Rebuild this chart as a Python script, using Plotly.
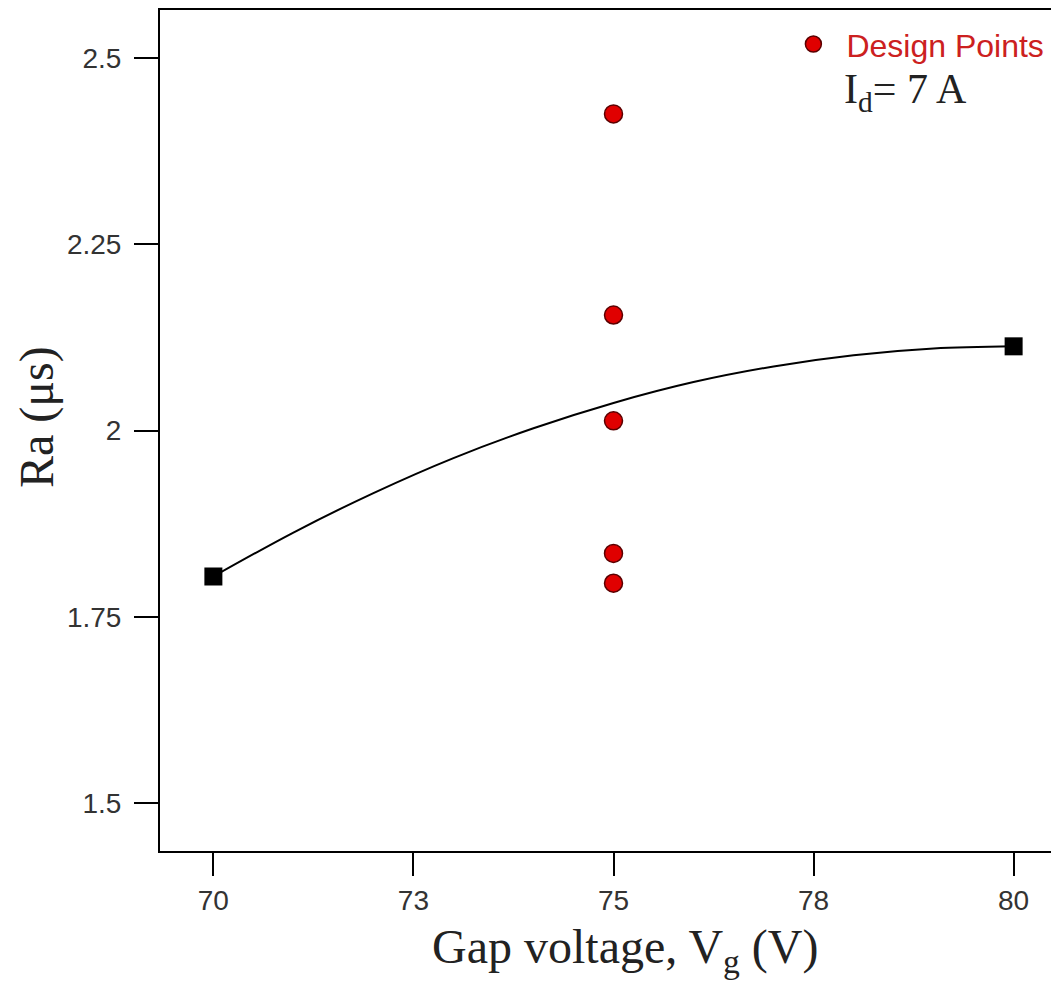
import plotly.graph_objects as go

# Design points (all at Vg = 75 V)
design_x = [75, 75, 75, 75, 75]
design_y = [2.425, 2.155, 2.013, 1.835, 1.795]

# Model prediction curve
curve_x = [70, 71, 72, 73, 74, 75, 76, 77, 78, 79, 80]
curve_y = [1.804, 1.863, 1.916, 1.963, 2.003, 2.037, 2.065, 2.086, 2.101, 2.110, 2.113]

# End points of the curve (black squares)
end_x = [70, 80]
end_y = [1.804, 2.113]

x_tickvals = [70, 72.5, 75, 77.5, 80]
x_ticktext = ["70", "73", "75", "78", "80"]
y_tickvals = [1.5, 1.75, 2.0, 2.25, 2.5]
y_ticktext = ["1.5", "1.75", "2", "2.25", "2.5"]

fig = go.Figure()
fig.add_trace(go.Scatter(x=curve_x, y=curve_y, mode="lines", line=dict(color="black", width=2, shape="spline"),
                         showlegend=False, hoverinfo="skip"))
fig.add_trace(go.Scatter(x=end_x, y=end_y, mode="markers",
                         marker=dict(symbol="square", size=18, color="black"), showlegend=False))
fig.add_trace(go.Scatter(x=design_x, y=design_y, mode="markers", name="Design Points",
                         marker=dict(symbol="circle", size=18, color="#e00000",
                                     line=dict(color="#5a0000", width=1.5))))

tickfont = dict(family="Liberation Sans, Arial", size=28, color="#333333")
serif = "Liberation Serif, Times New Roman"

fig.update_layout(
    width=1059, height=985,
    margin=dict(l=152, r=0, t=2, b=142),
    paper_bgcolor="white", plot_bgcolor="white",
    showlegend=True,
    legend=dict(x=0.684, y=0.992, xanchor="left", yanchor="top", bgcolor="rgba(0,0,0,0)",
                font=dict(family="Liberation Sans, Arial", size=32, color="#cc2020"),
                borderwidth=0, itemwidth=56),
    xaxis=dict(range=[69.333, 80.667], tickvals=x_tickvals, ticktext=x_ticktext,
               showgrid=False, zeroline=False, showline=True, linecolor="black", linewidth=2,
               mirror=True, ticks="outside", ticklen=23, tickwidth=2, tickcolor="black",
               tickfont=tickfont, ticklabelstandoff=0, automargin=False),
    yaxis=dict(range=[1.4355, 2.5645], tickvals=y_tickvals, ticktext=y_ticktext,
               showgrid=False, zeroline=False, showline=True, linecolor="black", linewidth=2,
               mirror=False, ticks="outside", ticklen=24, tickwidth=2, tickcolor="black",
               tickfont=tickfont, ticklabelstandoff=7, automargin=False),
    annotations=[
        dict(x=-0.1356, y=0.516, xref="paper", yref="paper", xanchor="center", yanchor="middle",
             text="Ra (μs)", textangle=-90, showarrow=False,
             font=dict(family=serif, size=48, color="#222222")),
        dict(x=0.5127, y=-0.118, xref="paper", yref="paper", xanchor="center", yanchor="middle",
             text="Gap voltage, V<sub>g</sub> (V)", showarrow=False,
             font=dict(family=serif, size=48, color="#222222")),
        dict(x=0.752, y=0.9025, xref="paper", yref="paper", xanchor="left", yanchor="middle",
             text="I<sub>d</sub>= 7 A", showarrow=False,
             font=dict(family=serif, size=42, color="#222222")),
    ],
)

fig.write_html("out.html")
